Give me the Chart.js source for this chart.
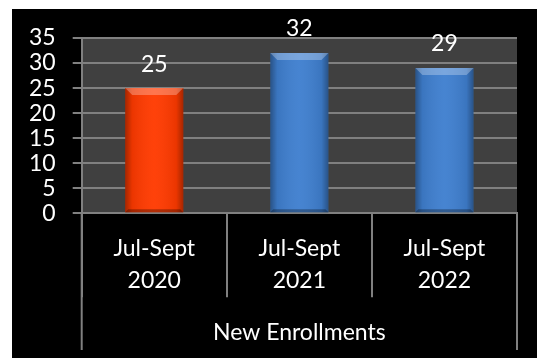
<!DOCTYPE html>
<html>
<head>
<meta charset="utf-8">
<script src="https://cdn.jsdelivr.net/npm/chart.js@4/dist/chart.umd.min.js"></script>
<style>
  html, body { margin: 0; padding: 0; background: #ffffff; }
  #wrap { position: absolute; left: 12px; top: 9px; width: 525px; height: 349px; background: #000000; }
  canvas { display: block; }
</style>
</head>
<body>
<div id="wrap"><canvas id="c" width="525" height="349"></canvas></div>
<script>
const categories = [["Jul-Sept", "2020"], ["Jul-Sept", "2021"], ["Jul-Sept", "2022"]];
const groupLabel = "New Enrollments";
const enrollments = [25, 32, 29];
const barColors = ["#ff3a00", "#3f7fcf"];
const yTicks = { min: 0, max: 35, step: 5 };

const FONT = "Lato, 'Open Sans', sans-serif";
const GRID = "#808080";

const decor = {
  id: 'decor',
  beforeDraw(chart) {
    const { ctx, chartArea: a } = chart;
    ctx.save();
    ctx.fillStyle = '#404040';
    ctx.fillRect(a.left, a.top, a.right - a.left, a.bottom - a.top);
    ctx.restore();
  },
  afterDatasetsDraw(chart) {
    const { ctx } = chart;
    const meta = chart.getDatasetMeta(0);
    meta.data.forEach((bar, i) => {
      const w = bar.width, l = bar.x - w / 2, r = bar.x + w / 2, t = bar.y, b = bar.base;
      ctx.save();
      const g = ctx.createLinearGradient(l, 0, r, 0);
      g.addColorStop(0, 'rgba(0,0,0,0.35)');
      g.addColorStop(0.12, 'rgba(0,0,0,0.08)');
      g.addColorStop(0.5, 'rgba(255,255,255,0.04)');
      g.addColorStop(0.88, 'rgba(0,0,0,0.08)');
      g.addColorStop(1, 'rgba(0,0,0,0.35)');
      ctx.fillStyle = g;
      ctx.fillRect(l, t, w, b - t);
      const bv = 7;
      ctx.beginPath();
      ctx.moveTo(l, t); ctx.lineTo(r, t); ctx.lineTo(r - bv, t + bv); ctx.lineTo(l + bv, t + bv); ctx.closePath();
      ctx.fillStyle = 'rgba(255,255,255,0.28)';
      ctx.fill();
      ctx.beginPath();
      ctx.moveTo(l, b); ctx.lineTo(r, b); ctx.lineTo(r - 3, b - 3); ctx.lineTo(l + 3, b - 3); ctx.closePath();
      ctx.fillStyle = 'rgba(0,0,0,0.3)';
      ctx.fill();
      ctx.fillStyle = '#ffffff';
      ctx.font = '23px ' + FONT;
      ctx.textAlign = 'center';
      ctx.textBaseline = 'middle';
      ctx.fillText(String(enrollments[i]), bar.x, t - 24);
      ctx.restore();
    });
  },
  afterDraw(chart) {
    const { ctx, chartArea: a } = chart;
    ctx.save();
    ctx.strokeStyle = GRID;
    ctx.lineWidth = 2;
    [a.left, a.right].forEach(x => {
      ctx.beginPath();
      ctx.moveTo(x, a.bottom);
      ctx.lineTo(x, 341);
      ctx.stroke();
    });
    ctx.restore();
  }
};

new Chart(document.getElementById('c'), {
  type: 'bar',
  data: {
    labels: categories,
    datasets: [{
      data: enrollments,
      backgroundColor: enrollments.map((v, i) => i === 0 ? barColors[0] : barColors[1]),
      borderWidth: 0,
      categoryPercentage: 1.0,
      barPercentage: 0.4
    }]
  },
  options: {
    responsive: false,
    animation: false,
    devicePixelRatio: 1,
    layout: { padding: { left: 0, right: 20, top: 29, bottom: 0 } },
    plugins: { legend: { display: false }, tooltip: { enabled: false } },
    scales: {
      x: {
        grid: { display: true, drawOnChartArea: false, drawTicks: true, tickLength: 84, color: GRID, lineWidth: 2, offset: true },
        border: { display: true, color: GRID, width: 2 },
        ticks: { color: '#ffffff', font: { family: FONT, size: 23, lineHeight: '32px' }, padding: -65, maxRotation: 0, autoSkip: false },
        title: { display: true, text: groupLabel, color: '#ffffff', font: { family: FONT, size: 23, lineHeight: 1.2 }, padding: { top: 0, bottom: 12 } },
        afterFit(s) { s.height = 144.7; }
      },
      y: {
        min: yTicks.min, max: yTicks.max,
        grid: { color: GRID, lineWidth: 2, tickLength: 9, drawTicks: true },
        border: { display: true, color: GRID, width: 2 },
        ticks: { stepSize: yTicks.step, autoSkip: false, color: '#ffffff', font: { family: FONT, size: 23, lineHeight: 1 }, padding: 17 },
        afterFit(s) { s.width = 69.7; }
      }
    }
  },
  plugins: [decor]
});
</script>
</body>
</html>
